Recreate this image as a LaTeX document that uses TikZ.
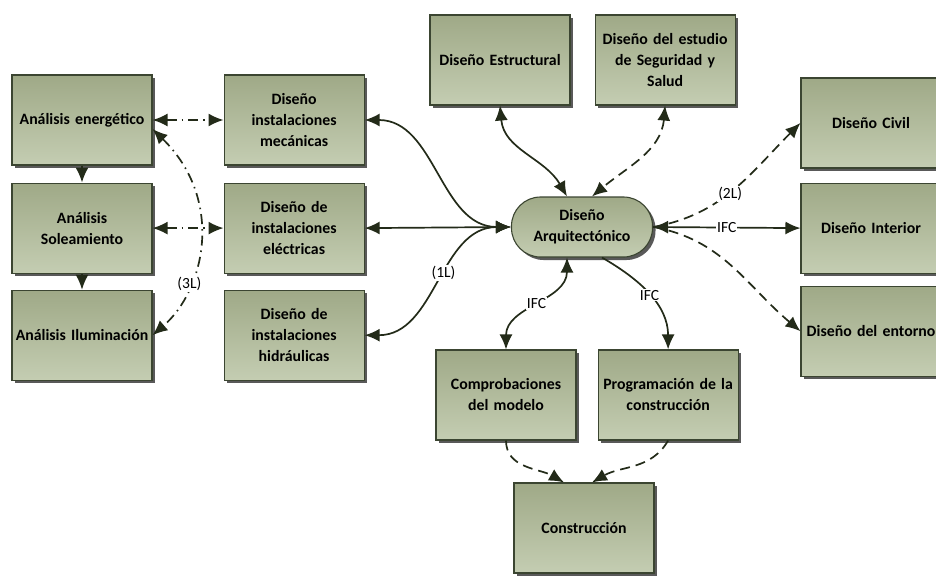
\documentclass[tikz,border=0pt]{standalone}
\usepackage{fontspec}
\setmainfont{Carlito}
\usetikzlibrary{arrows.meta,positioning,shadows}

\definecolor{boxtop}{HTML}{9FA987}
\definecolor{boxbot}{HTML}{C4CDB2}
\definecolor{boxline}{HTML}{3B4531}
\definecolor{tipcol}{HTML}{232B19}

\begin{document}
\begin{tikzpicture}[
    x=1pt, y=1pt,
    node distance=17pt and 71pt,
    box/.style={draw=boxline, line width=1.1pt, top color=boxtop, bottom color=boxbot,
        minimum width=140pt, minimum height=90pt, text width=138pt, align=center,
        inner sep=1pt, font=\fontsize{15.8}{21}\selectfont\bfseries,
        drop shadow={shadow xshift=3pt, shadow yshift=-3pt, fill=black!65, opacity=1}},
    pill/.style={box, rounded corners=29pt, minimum height=60pt},
    arrow/.style={>={Latex[length=15pt,width=13pt]}, draw=tipcol, line width=1.7pt},
    dline/.style={arrow, dash pattern=on 10pt off 6pt},
    ddline/.style={arrow, dash pattern=on 10pt off 5pt on 1.5pt off 5pt},
    lbl/.style={fill=white, inner sep=1pt, font=\fontsize{15.5}{17}\selectfont}
]
\useasboundingbox (0,0) rectangle (936,-575);

% left column
\node[box] (ener) at (82,-120) {Análisis energético};
\node[box, below=of ener] (sol) {Análisis\\Soleamiento};
\node[box, below=16pt of sol] (ilu) {Análisis Iluminación};

% installations
\node[box, right=of ener] (mec) {Diseño\\instalaciones\\mecánicas};
\node[box, right=of sol] (elec) {Diseño de\\instalaciones\\eléctricas};
\node[box, right=of ilu] (hidr) {Diseño de\\instalaciones\\hidráulicas};

% centre
\node[pill, minimum width=141pt] (arq) at (582,-227) {Diseño\\Arquitectónico};
\node[box] (estr) at (500,-60) {Diseño Estructural};
\node[box, right=24pt of estr] (segu) {Diseño del estudio\\de Seguridad y\\Salud};

% right column
\node[box] (civil) at (871,-123) {Diseño Civil};
\node[box, below=14pt of civil] (inter) {Diseño Interior};
\node[box, below=12pt of inter] (ent) {Diseño del entorno};

% bottom
\node[box] (comp) at (506,-395) {Comprobaciones\\del modelo};
\node[box, right=21pt of comp] (prog) {Programación de la\\construcción};
\node[box] (cons) at (584,-528) {Construcción};

% left side links
\draw[arrow, ->] (ener) -- (sol);
\draw[arrow, ->] (sol) -- (ilu);
\draw[ddline, <->] (ener) -- (mec);
\draw[ddline, <->] (sol) -- (elec);
\draw[ddline, <->] ([yshift=-9pt]ener.east) .. controls (225,-200) and (205,-290) ..
    node[lbl, pos=0.7] {(3L)} (ilu.east);

% architecture links
\draw[arrow, <->] (arq.west) to[out=180, in=0] (mec.east);
\draw[arrow, <->] (arq.west) -- (elec.east);
\draw[arrow, <->] (arq.west) to[out=180, in=0] node[lbl, pos=0.45] {(1L)} (hidr.east);
\draw[arrow, <->] (estr.south) to[out=-85, in=120] ([xshift=-15pt]arq.north);
\draw[dline, <->] (segu.south) to[out=-95, in=40] ([xshift=10pt]arq.north);
\draw[dline, ->] (arq.east) to[out=10, in=225] node[lbl, pos=0.38, above right=-2pt] {(2L)} (civil.west);
\draw[arrow, <->] (arq.east) -- node[lbl] {IFC} (inter.west);
\draw[dline, ->] (arq.east) to[out=-10, in=140] (ent.west);
\draw[arrow, <->] ([xshift=-15pt]arq.south) to[out=-90, in=90] node[lbl] {IFC} (comp.north);
\draw[arrow, ->] ([xshift=20pt]arq.south) to[out=-30, in=90] node[lbl] {IFC} (prog.north);

% construction
\draw[dline, ->] (comp.south) to[out=-90, in=150] ([xshift=-20pt]cons.north);
\draw[dline, ->] (prog.south) to[out=-120, in=30] ([xshift=8pt]cons.north);
\end{tikzpicture}
\end{document}
